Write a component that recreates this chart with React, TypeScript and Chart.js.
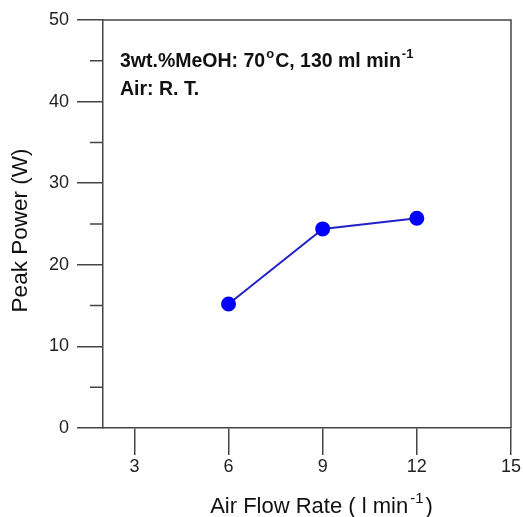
import React, { useEffect, useRef } from "react";
import { Chart, registerables } from "chart.js";

Chart.register(...registerables);

// ---- data ----
const airFlowRates = [6, 9, 12];
const peakPower = [15.2, 24.4, 25.7];
const xTickValues = [3, 6, 9, 12, 15];
const yMajorTicks = [0, 10, 20, 30, 40, 50];
const yMinorTicks = [5, 15, 25, 35, 45];

type Part = { text: string; sup?: boolean };
const annotationLine1: Part[] = [
  { text: "3wt.%MeOH: 70" },
  { text: "o", sup: true },
  { text: "C, 130 ml min" },
  { text: "-1", sup: true },
];
const annotationLine2: Part[] = [{ text: "Air: R. T." }];
const xTitleParts: Part[] = [
  { text: "Air Flow Rate ( l min" },
  { text: "-1", sup: true },
  { text: ")" },
];
const yTitleText = "Peak Power (W)";

const FAMILY = "'Liberation Sans', Arial, Helvetica, sans-serif";
const AXIS_COLOR = "#444";

function drawRich(
  ctx: CanvasRenderingContext2D,
  x: number,
  y: number,
  parts: Part[],
  size: number,
  bold: boolean,
  supGap: number,
  measureOnly = false
): number {
  let cx = x;
  for (const p of parts) {
    const s = p.sup ? Math.round(size * 0.66) : size;
    ctx.font = `${bold ? "bold " : ""}${s}px ${FAMILY}`;
    const dy = p.sup ? -size * 0.47 : 0;
    if (p.sup) cx += supGap;
    if (!measureOnly) ctx.fillText(p.text, cx, y + dy);
    cx += ctx.measureText(p.text).width + (p.sup ? supGap : 0);
  }
  return cx - x;
}

const decorPlugin = {
  id: "decor",
  afterDraw(chart: any) {
    const { ctx, chartArea, scales } = chart;
    const y = scales.y;
    ctx.save();
    // top & right frame
    ctx.strokeStyle = AXIS_COLOR;
    ctx.lineWidth = 1.5;
    ctx.beginPath();
    ctx.moveTo(chartArea.left, chartArea.top);
    ctx.lineTo(chartArea.right, chartArea.top);
    ctx.lineTo(chartArea.right, chartArea.bottom);
    ctx.stroke();
    // minor y ticks
    ctx.beginPath();
    for (const v of yMinorTicks) {
      const py = y.getPixelForValue(v);
      ctx.moveTo(chartArea.left - 13, py);
      ctx.lineTo(chartArea.left, py);
    }
    ctx.stroke();

    ctx.fillStyle = "#111";
    ctx.textBaseline = "alphabetic";
    ctx.textAlign = "left";
    // annotation
    drawRich(ctx, chartArea.left + 17, 67, annotationLine1, 19.5, true, 1);
    drawRich(ctx, chartArea.left + 17, 95, annotationLine2, 19.5, true, 1);

    // x title
    const w = drawRich(ctx, 0, 0, xTitleParts, 22, false, 2, true);
    drawRich(ctx, 321.5 - w / 2, 513, xTitleParts, 22, false, 2);

    // y title
    ctx.save();
    ctx.translate(27, 230.5);
    ctx.rotate(-Math.PI / 2);
    ctx.font = `22.5px ${FAMILY}`;
    ctx.textAlign = "center";
    ctx.fillText(yTitleText, 0, 0);
    ctx.restore();

    ctx.restore();
  },
};

export default function App() {
  const ref = useRef<HTMLCanvasElement | null>(null);
  useEffect(() => {
    if (!ref.current) return;
    const chart = new Chart(ref.current, {
      type: "line",
      data: {
        datasets: [
          {
            data: airFlowRates.map((x, i) => ({ x, y: peakPower[i] })),
            borderColor: "#2323c8",
            borderWidth: 2,
            backgroundColor: "#0000ff",
            pointBackgroundColor: "#0000ff",
            pointBorderColor: "#0000ff",
            pointRadius: 6.5,
            pointStyle: "circle",
            tension: 0,
          },
        ],
      },
      options: {
        responsive: false,
        animation: false,
        events: [],
        layout: { padding: { left: 0, top: 20, right: 12, bottom: 0 } },
        plugins: { legend: { display: false }, tooltip: { enabled: false } },
        scales: {
          x: {
            type: "linear",
            min: 2,
            max: 15,
            afterBuildTicks: (s: any) => {
              s.ticks = xTickValues.map((v) => ({ value: v }));
            },
            afterFit: (s: any) => {
              s.height = 89;
            },
            grid: {
              display: true,
              drawOnChartArea: false,
              drawTicks: true,
              tickLength: 27,
              color: AXIS_COLOR,
              lineWidth: 1.5,
            },
            border: { display: true, color: AXIS_COLOR, width: 1.5 },
            ticks: {
              autoSkip: false,
              maxRotation: 0,
              padding: 1,
              color: "#222",
              font: { family: FAMILY, size: 18 },
            },
          },
          y: {
            type: "linear",
            min: 0,
            max: 50,
            afterBuildTicks: (s: any) => {
              s.ticks = yMajorTicks.map((v) => ({ value: v }));
            },
            afterFit: (s: any) => {
              s.width = 103;
            },
            grid: {
              display: true,
              drawOnChartArea: false,
              drawTicks: true,
              tickLength: 26,
              color: AXIS_COLOR,
              lineWidth: 1.5,
            },
            border: { display: true, color: AXIS_COLOR, width: 1.5 },
            ticks: {
              autoSkip: false,
              padding: 8,
              color: "#222",
              font: { family: FAMILY, size: 18 },
            },
          },
        },
      },
      plugins: [decorPlugin],
    } as any);
    return () => chart.destroy();
  }, []);
  return (
    <div style={{ position: "absolute", left: 0, top: 0, width: 523, height: 517, background: "#fff" }}>
      <canvas ref={ref} width={523} height={517} style={{ display: "block" }} />
    </div>
  );
}
